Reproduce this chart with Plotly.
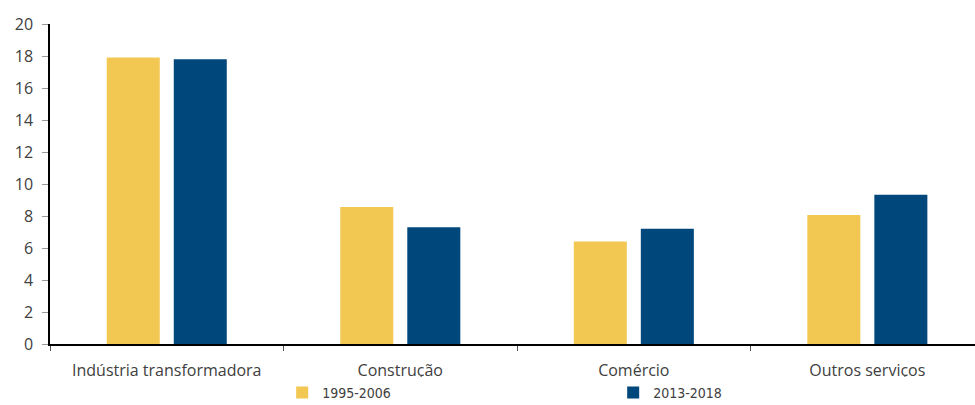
import plotly.graph_objects as go

categories = ["Indústria transformadora", "Construção", "Comércio", "Outros serviços"]
series_1995_2006 = [17.9, 8.56, 6.4, 8.06]
series_2013_2018 = [17.8, 7.3, 7.2, 9.33]
y_ticks = [0, 2, 4, 6, 8, 10, 12, 14, 16, 18, 20]

fig = go.Figure()
fig.add_trace(go.Bar(name="1995-2006", x=categories, y=series_1995_2006,
                     marker=dict(color="#F2C752", line=dict(width=0))))
fig.add_trace(go.Bar(name="2013-2018", x=categories, y=series_2013_2018,
                     marker=dict(color="#00477B", line=dict(width=0))))

fig.update_layout(
    width=975, height=405,
    margin=dict(l=50, r=0, t=24, b=61, autoexpand=False),
    paper_bgcolor="white", plot_bgcolor="white",
    barmode="group", bargap=0.426, bargroupgap=0.209,
    font=dict(family="Open Sans", size=16, color="#404040"),
    showlegend=True,
    legend=dict(orientation="h", x=0.251, xanchor="left", y=-0.103, yanchor="top",
                entrywidth=286, entrywidthmode="pixels",
                font=dict(family="DejaVu Sans Condensed", size=14, color="#404040"),
                itemsizing="constant", traceorder="normal"),
    xaxis=dict(range=[-0.5, 3.461], showline=True, linecolor="black", linewidth=1.5,
               ticks="outside", tickson="boundaries", ticklen=5, tickcolor="#555555",
               ticklabelstandoff=11,
               showgrid=False, tickfont=dict(size=16, color="#404040")),
    yaxis=dict(range=[0, 20], tickvals=y_ticks, showline=True, linecolor="black", linewidth=1.5,
               ticks="outside", ticklen=6, tickcolor="#999999", showgrid=False, zeroline=False,
               ticklabelstandoff=6,
               tickfont=dict(size=16, color="#404040")),
)

fig.write_html("out.html")
